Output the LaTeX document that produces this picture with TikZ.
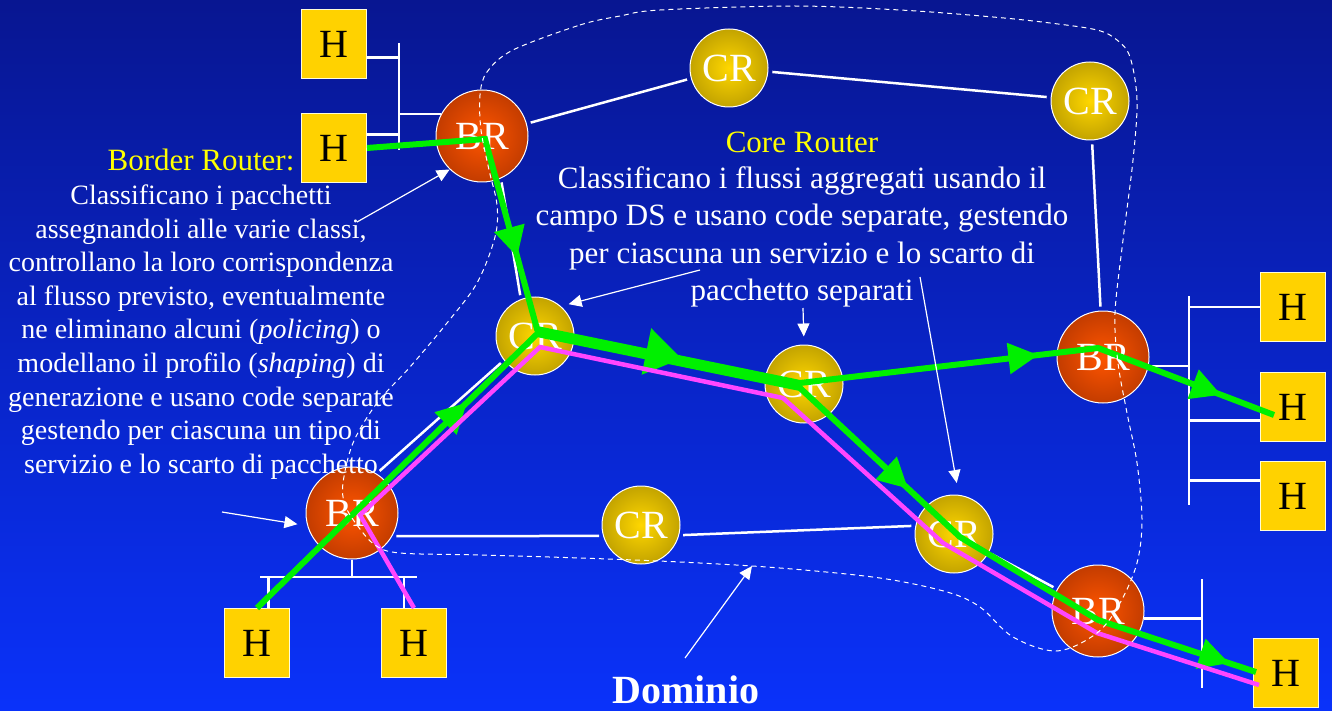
\documentclass[tikz,border=0pt]{standalone}
\usepackage{fontspec}
\setmainfont{Liberation Serif}
\usepackage{tikz}
\usetikzlibrary{calc,arrows.meta,decorations.markings}
\definecolor{bgtop}{RGB}{8,22,145}
\definecolor{bgbot}{RGB}{10,50,250}
\definecolor{brin}{RGB}{255,85,0}
\definecolor{brout}{RGB}{135,35,0}
\definecolor{crin}{RGB}{255,215,0}
\definecolor{crout}{RGB}{135,112,0}
\definecolor{hostyellow}{RGB}{255,210,0}
\definecolor{flowgreen}{RGB}{0,240,0}
\definecolor{flowpink}{RGB}{255,70,255}
\definecolor{labelyellow}{RGB}{255,255,0}
\pgfdeclareradialshading{brshading}{\pgfpoint{0bp}{0bp}}{color(0bp)=(brin); color(50bp)=(brout); color(100bp)=(brout)}
\pgfdeclareradialshading{crshading}{\pgfpoint{0bp}{0bp}}{color(0bp)=(crin); color(50bp)=(crout); color(100bp)=(crout)}

\begin{document}
\begin{tikzpicture}[x=1pt,y=-1pt]

\tikzset{routernode/.style={circle,draw=white,line width=1pt,inner sep=0pt,text=white,font=\fontsize{40}{40}\selectfont},
brnode/.style={routernode,shade,shading=brshading,minimum size=92pt},
crnode/.style={routernode,shade,shading=crshading,minimum size=78pt},
hostnode/.style={draw=white!85!yellow,line width=1pt,fill=hostyellow,minimum width=65pt,minimum height=69pt,inner sep=0pt,font=\fontsize{40}{40}\selectfont},
link/.style={white,line width=2.5pt,shorten >=4pt,shorten <=4pt},
bus/.style={white,line width=2.5pt},
greenflow/.style={flowgreen,line width=6pt},
pinkflow/.style={flowpink,line width=4.5pt},
flowarrow/.style={postaction={decorate,decoration={markings,mark=at position #1 with {\arrow{Triangle[length=30pt,width=30pt]}}}}},
bigarrow/.style={postaction={decorate,decoration={markings,mark=at position #1 with {\arrow{Triangle[length=36pt,width=46pt]}}}}},
notearrow/.style={white,line width=1.2pt,-{Triangle[length=13pt,width=12pt]}},
dominioline/.style={white,line width=1pt,dash pattern=on 5pt off 4pt},
bodytext/.style={text=white,align=center},
titletext/.style={text=labelyellow,font=\fontsize{31}{37}\selectfont}}

% Background
\useasboundingbox (0,0) rectangle (1332,711);
\shade[top color=bgtop,bottom color=bgbot] (0,0) rectangle (1332,711);

% Border routers
\node[brnode] (br1) at (482,136) {BR};
\node[brnode] (brr) at (1103,357) {BR};
\node[brnode] (brbl) at (352,513) {BR};
\node[brnode] (brbr) at (1098,611) {BR};

% Core routers
\node[crnode] (crt1) at (729,68) {CR};
\node[crnode] (crt2) at (1090,101) {CR};
\node[crnode] (crlm) at (535,336) {CR};
\node[crnode] (crm) at (804,384) {CR};
\node[crnode] (crbm) at (641,525) {CR};
\node[crnode] (crbr) at (954,534) {CR};

% Hosts
\node[hostnode] (h1) at (334,44) {H};
\node[hostnode] (h2) at (334,148) {H};
\node[hostnode] (hbl1) at (257,643) {H};
\node[hostnode] (hbl2) at (414,643) {H};
\node[hostnode] (hr1) at (1293,307) {H};
\node[hostnode] (hr2) at (1293,407) {H};
\node[hostnode] (hr3) at (1293,496) {H};
\node[hostnode] (hbr) at (1286,673) {H};

% Links between routers
\draw[link] (br1) -- (crt1); \draw[link] (crt1) -- (crt2); \draw[link] (crt2) -- (brr);
\draw[link] (br1.-66) -- (crlm.111); \draw[link] (brbl.58) -- (crlm.218);
\draw[link] (brbl.-30) -- (crbm.196); \draw[link] (crbm.-15) -- (crbr.168);
\draw[link] (crbr) -- (brbr);

% Buses
\coordinate (tlbusA) at (399,43); \coordinate (tlbusB) at (399,150);
\draw[bus] (tlbusA) -- (tlbusB);
\draw[bus] (h1.-22) -- (h1.-22 -| tlbusA); \draw[bus] (h2.22) -- (h2.22 -| tlbusA); \draw[bus] (br1.152) -- (br1.152 -| tlbusA);
\coordinate (blbusA) at (260,577); \coordinate (blbusB) at (417,577);
\draw[bus] (blbusA) -- (blbusB);
\draw[bus] (brbl.south) -- (brbl.south |- blbusA); \draw[bus] (hbl1.72) -- (hbl1.72 |- blbusA); \draw[bus] (hbl2.106) -- (hbl2.106 |- blbusA);
\coordinate (rbusA) at (1189,296); \coordinate (rbusB) at (1189,505);
\draw[bus] (rbusA) -- (rbusB);
\draw[bus] (hr1.west) -- (hr1.west -| rbusA); \draw[bus] (brr.-11) -- (brr.-11 -| rbusA);
\draw[bus] (hr2.202) -- (hr2.202 -| rbusA); \draw[bus] (hr3.155) -- (hr3.155 -| rbusA);
\coordinate (brbusA) at (1202,579); \coordinate (brbusB) at (1202,688);
\draw[bus] (brbusA) -- (brbusB);
\draw[bus] (brbr.-9) -- (brbr.-9 -| brbusA);

% Flows
\coordinate (ga1) at ($(br1)+(3,3)$); \coordinate (ga2) at ($(crlm)+(2,-7)$); \coordinate (ga3) at ($(crm)+(-4,-1)$);
\coordinate (ga4) at ($(brr)+(-5,-9)$); \coordinate (ga5) at ($(hr2.west)+(14,8)$);
\coordinate (gb1) at ($(crlm)+(2,-2)$); \coordinate (gb2) at ($(crm)+(-4,4)$); \coordinate (gb3) at ($(crbr)+(6,3)$);
\coordinate (gb4) at ($(brbr)+(0,9)$); \coordinate (gb5) at ($(hbr.west)+(3,-1)$);
\coordinate (pk1) at ($(brbl)+(8,2)$); \coordinate (pk2) at ($(crlm)+(5,11)$); \coordinate (pk3) at ($(crm)+(-21,14)$);
\coordinate (pk4) at ($(crbr)+(-11,9)$); \coordinate (pk5) at ($(brbr)+(-1,22)$); \coordinate (pk6) at ($(hbr.west)+(6,12)$);
\draw[greenflow] (h2.east) -- (ga1) -- (ga2) -- (ga3) -- (ga4) -- (ga5);
\draw[greenflow] (hbl1.north) -- (gb1) -- (gb2) -- (gb3) -- (gb4) -- (gb5);
\path[greenflow,flowarrow=0.62] (ga1) -- (ga2); \path[greenflow,bigarrow=0.55] (ga2) -- (ga3);
\path[greenflow,flowarrow=0.8] (ga3) -- (ga4); \path[greenflow,flowarrow=0.7] (ga4) -- (ga5);
\path[greenflow,flowarrow=0.75] (hbl1.north) -- (gb1); \path[greenflow,flowarrow=0.675] (gb2) -- (gb3);
\path[greenflow,flowarrow=0.83] (gb4) -- (gb5);
\draw[pinkflow] (hbl2.north) -- (pk1) -- (pk2) -- (pk3) -- (pk4) -- (pk5) -- (pk6);

% Domain
\draw[dominioline] plot[smooth cycle,tension=0.55] coordinates {(513,50) (580,25) (620,16) (660,10) (793,6) (900,10) (993,17) (1050,23) (1097,30) (1117,40) (1130,57) (1137,100) (1133,160) (1123,240) (1115,313) (1118,363) (1127,413) (1137,463) (1142,520) (1137,563) (1120,603) (1097,633) (1057,651) (1013,637) (980,607) (947,592) (880,578) (780,568) (680,562) (580,558) (480,555) (400,553) (375,545) (357,525) (345,505) (343,483) (353,443) (377,403) (410,367) (447,323) (477,283) (495,237) (497,205) (489,170) (481,130) (480,95) (487,72)};

% Labels
\node[titletext] (brtitle) at (201,160) {Border Router:};
\node[bodytext,font=\fontsize{28}{33.6}\selectfont] (brtext) at (201,332) {Classificano i pacchetti\\assegnandoli alle varie classi,\\controllano la loro corrispondenza\\al flusso previsto, eventualmente\\ne eliminano alcuni (\textit{policing}) o\\modellano il profilo (\textit{shaping}) di\\generazione e usano code separate\\gestendo per ciascuna un tipo di\\servizio e lo scarto di pacchetto};
\node[titletext] (crtitle) at (802,142) {Core Router};
\node[bodytext,font=\fontsize{31}{37.3}\selectfont] (crtext) at (802,237) {Classificano i flussi aggregati usando il\\campo DS e usano code separate, gestendo\\per ciascuna un servizio e lo scarto di\\pacchetto separati};
\node[text=white,font=\fontsize{40}{40}\selectfont\bfseries] (dominio) at (686,690) {Dominio};

% Pointers
\coordinate (n1) at (357,222); \draw[notearrow] (n1) -- (br1.226);
\coordinate (n2) at (222,512); \draw[notearrow,shorten >=10pt] (n2) -- (brbl.196);
\coordinate (n3) at (700,270); \draw[notearrow,shorten >=8pt] (n3) -- (crlm.49);
\coordinate (n4) at (803,308); \draw[notearrow,shorten >=8pt] (n4) -- (crm.north);
\coordinate (n5) at (920,277); \draw[notearrow,shorten >=12pt] (n5) -- (crbr.83);
\coordinate (n6) at (685,658); \coordinate (domtip) at (752,566); \draw[notearrow] (n6) -- (domtip);

\end{tikzpicture}
\end{document}
